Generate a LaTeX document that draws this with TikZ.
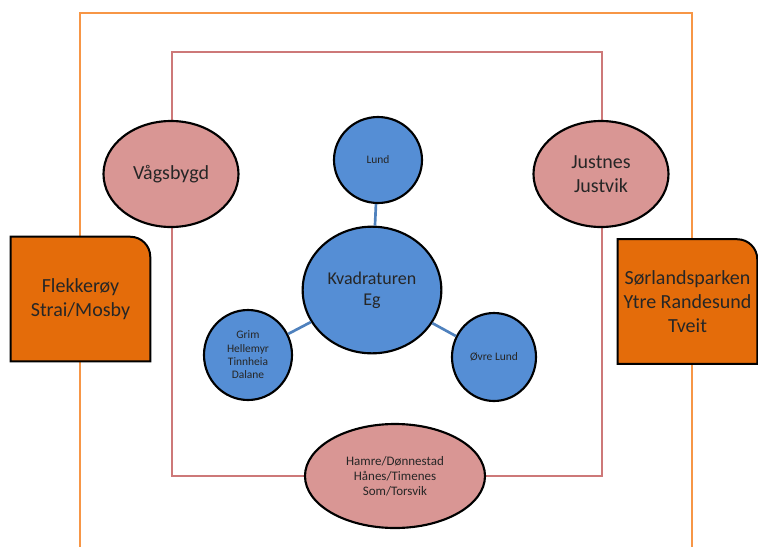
\documentclass[tikz,border=0pt]{standalone}
\usepackage{fontspec}
\setmainfont{Carlito}
\usetikzlibrary{shapes.geometric, backgrounds}
\definecolor{districtpink}{RGB}{217,150,148}
\definecolor{centreblue}{RGB}{85,142,213}
\definecolor{regionorange}{RGB}{228,108,10}
\definecolor{frameorange}{RGB}{247,150,70}
\definecolor{framepink}{RGB}{205,120,120}
\definecolor{linkblue}{RGB}{79,129,189}

\begin{document}
\begin{tikzpicture}[x=0.75pt, y=-0.75pt,
    every node/.style={text=black!85, align=center},
    district/.style={ellipse, draw=black, fill=districtpink, line width=1.6pt, inner sep=0pt},
    centre/.style={ellipse, draw=black, fill=centreblue, line width=1.6pt, inner sep=0pt},
    region/.style={rectangle, minimum width=104.25pt, minimum height=93pt, inner sep=0pt},
    regionshape/.style={draw=black, fill=regionorange, line width=1.5pt},
    link/.style={draw=linkblue, line width=2pt},
    outerframe/.style={draw=frameorange, line width=2.2pt},
    innerframe/.style={draw=framepink, line width=1.1pt},
    bigfont/.style={font=\fontsize{15}{18}\selectfont},
    smallfont/.style={font=\fontsize{8.6}{10}\selectfont}
]
\useasboundingbox (0,0) rectangle (758,547);

% Districts (pink ellipses)
\node[district, bigfont, minimum width=101.25pt, minimum height=79.5pt] (vaag) at (171,174) {Vågsbygd};
\node[district, bigfont, minimum width=101.25pt, minimum height=79.5pt] (justnes) at (601,174) {Justnes\\Justvik};
\node[district, font=\fontsize{9.75}{11.25}\selectfont, minimum width=135pt, minimum height=78pt] (hamre) at (395,476) {Hamre/Dønnestad\\Hånes/Timenes\\Som/Torsvik};

% Centre (blue circles)
\node[centre, font=\fontsize{13.5}{16}\selectfont, minimum width=104pt, minimum height=95pt] (kvad) at (372,290) {Kvadraturen\\Eg};
\node[centre, smallfont, minimum width=66pt, minimum height=64.5pt] (lund) at (378,160) {Lund};
\node[centre, smallfont, minimum width=66pt, minimum height=67.5pt] (grim) at (248,355) {Grim\\Hellemyr\\Tinnheia\\Dalane};
\node[centre, smallfont, minimum width=63pt, minimum height=66pt] (ovre) at (494,357) {Øvre Lund};

% Outer regions (orange boxes)
\node[region, bigfont] (flekk) at (80.5,299) {Flekkerøy\\Strai/Mosby};
\node[region, bigfont] (sorl) at (687.5,301.5) {Sørlandsparken\\Ytre Randesund\\Tveit};

% Links to the centre
\draw[link] (lund) -- (kvad);
\draw[link] (grim) -- (kvad);
\draw[link] (ovre) -- (kvad);

% Frames and box shapes behind the nodes
\begin{scope}[on background layer]
  \draw[outerframe] (80,547) -- (80,13) -- (692,13) -- (692,547);
  \draw[innerframe] (hamre.center) -| (172,52) -- (602,52) |- (hamre.center);
  \foreach \r in {flekk, sorl} {
    \draw[regionshape] (\r.south west) -- (\r.north west) -- ([xshift=-15pt]\r.north east)
      arc[start angle=90, end angle=0, radius=15pt] -- (\r.south east) -- cycle;
  }
\end{scope}

\end{tikzpicture}
\end{document}
